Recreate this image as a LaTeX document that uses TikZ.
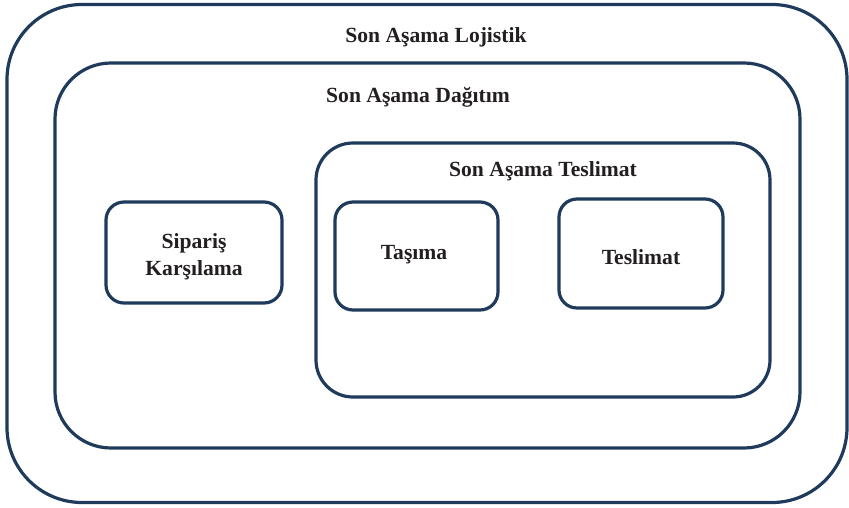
\documentclass[tikz,border=0pt]{standalone}
\usepackage{fontspec}
\setmainfont{Liberation Serif}
\definecolor{navy}{HTML}{1F3A5A}
\definecolor{ink}{HTML}{231F20}
\begin{document}
\begin{tikzpicture}[x=1pt,y=-1pt,
  frame/.style={draw=navy, line width=3.2pt, fill=none, inner sep=0pt, outer sep=0pt},
  title/.style={text=ink, font=\fontsize{21.6}{27}\selectfont\bfseries, inner sep=0pt, align=center}]
\useasboundingbox (0,0) rectangle (849,507);
\node[frame, rounded corners=75pt, minimum width=840pt, minimum height=498pt] (logistik) at (427,253.5) {};
\node[frame, rounded corners=56pt, minimum width=745pt, minimum height=385pt] (dagitim) at (427.5,255.5) {};
\node[frame, rounded corners=37pt, minimum width=454pt, minimum height=254pt] (teslimatbox) at (543,270) {};
\node[frame, rounded corners=18pt, minimum width=176pt, minimum height=101pt] (siparis) at (194,252.5) {};
\node[frame, rounded corners=18pt, minimum width=163pt, minimum height=108pt] (tasima) at (416.5,256) {};
\node[frame, rounded corners=18pt, minimum width=164pt, minimum height=109pt] (teslimat) at (641,253.5) {};
\node[title] (tlog) at (436,37.5) {Son Aşama Lojistik};
\node[title] (tdag) at (418,97.5) {Son Aşama Dağıtım};
\node[title] (ttes) at (543,171.5) {Son Aşama Teslimat};
\node[title] (tsip) at (194,257) {Sipariş\\Karşılama};
\node[title] (ttas) at (414,254.5) {Taşıma};
\node[title] (ttsl) at (641,257) {Teslimat};
\end{tikzpicture}
\end{document}
